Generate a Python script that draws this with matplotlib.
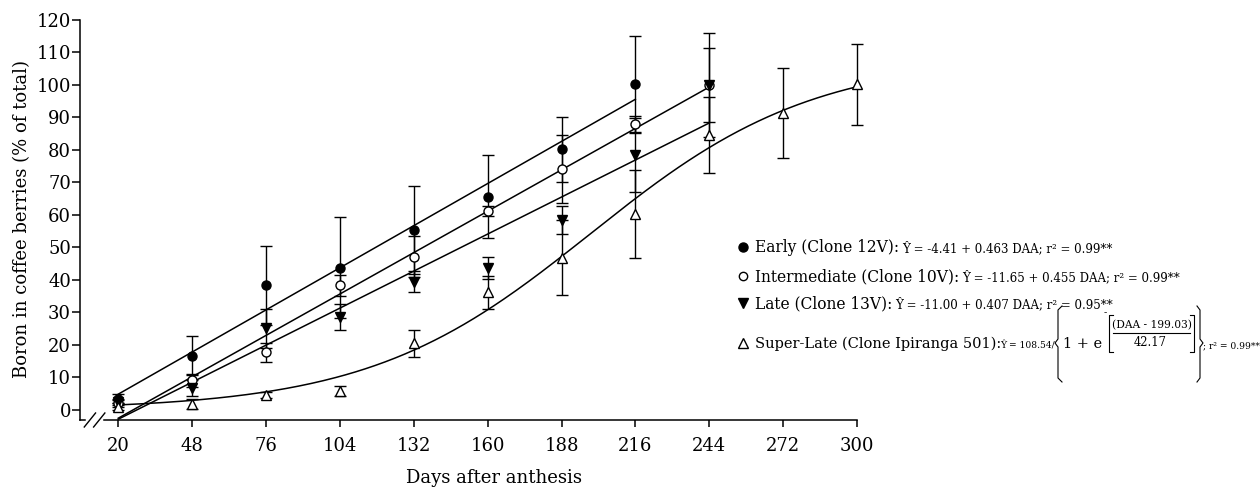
import numpy as np
import matplotlib
matplotlib.use('Agg')
import matplotlib.pyplot as plt
from matplotlib.lines import Line2D
from matplotlib.transforms import Affine2D

plt.rcParams.update({
    'font.family': 'DejaVu Serif',
    'axes.linewidth': 1.1,
    'xtick.major.width': 1.1,
    'ytick.major.width': 1.1,
})

W, H = 1260, 490

# ── data ──────────────────────────────────────────────────────────
days = [20, 48, 76, 104, 132, 160, 188, 216, 244, 272, 300]

early_days = days[:8]
early_val = [3.5, 16.6, 38.3, 43.8, 55.4, 65.6, 80.2, 100.2]
early_err = [1.5, 6.0, 12.2, 15.5, 13.6, 12.7, 10.0, 15.0]

inter_days = days[:9]
inter_val = [2.0, 9.2, 17.7, 38.3, 47.2, 61.2, 74.2, 87.9, 100.0]
inter_err = [1.0, 2.0, 3.0, 3.2, 6.3, 1.5, 10.5, 2.5, 11.5]

late_days = days[:9]
late_val = [2.5, 6.8, 25.2, 28.7, 39.5, 43.8, 58.5, 78.5, 100.0]
late_err = [1.0, 2.5, 6.0, 4.0, 3.3, 3.4, 4.3, 11.3, 16.0]

super_days = days
super_val = [1.0, 1.8, 4.6, 5.8, 20.5, 36.2, 46.9, 60.2, 84.6, 91.3, 100.2]
super_err = [1.0, 1.5, 0.8, 1.6, 4.1, 5.0, 11.5, 13.5, 11.8, 13.8, 12.4]

# fitted equations as printed on the chart
early_fit = (-4.41, 0.463)
inter_fit = (-11.65, 0.455)
late_fit = (-11.00, 0.407)
super_fit = (108.54, 199.03, 42.17)

# ── figure ────────────────────────────────────────────────────────
fig = plt.figure(figsize=(W / 100, H / 100), dpi=100)
ax = fig.add_axes([80 / W, 70 / H, 777 / W, 400 / H])
px = Affine2D().scale(1 / W, -1 / H).translate(0, 1) + fig.transFigure
renderer = fig.canvas.get_renderer()

ax.set_xlim(5.5, 300)
ax.set_ylim(-3.1, 120)

# regression lines
for (a, b), d in [(early_fit, early_days), (inter_fit, inter_days), (late_fit, late_days)]:
    xx = np.array([d[0], d[-1]])
    ax.plot(xx, a + b * xx, color='black', lw=1.1, zorder=2, clip_on=False)
xs = np.linspace(20, 300, 300)
ax.plot(xs, super_fit[0] / (1 + np.exp(-(xs - super_fit[1]) / super_fit[2])),
        color='black', lw=1.1, zorder=2, clip_on=False)

# points with error bars
series = [
    (early_days, early_val, early_err, 'o', 'black', 6.5),
    (inter_days, inter_val, inter_err, 'o', 'white', 6.5),
    (late_days, late_val, late_err, 'v', 'black', 7),
    (super_days, super_val, super_err, '^', 'white', 7),
]
for d, v, e, m, fc, ms in series:
    eb = ax.errorbar(d, v, yerr=e, fmt=m, mfc=fc, mec='black', ms=ms, mew=1.0,
                     ecolor='black', elinewidth=1.0, capsize=4.3, capthick=1.0,
                     zorder=3)
    for art in [eb.lines[0]] + list(eb.lines[1]) + list(eb.lines[2]):
        art.set_clip_on(False)

# axes styling
ax.spines['top'].set_visible(False)
ax.spines['right'].set_visible(False)
ax.spines['bottom'].set_visible(False)
ax.set_xticks(days)
ax.set_yticks(np.arange(0, 121, 10))
ax.tick_params(axis='x', direction='out', length=5, pad=7, labelsize=13)
ax.tick_params(axis='y', direction='out', length=5.5, pad=1, labelsize=13)

# broken x axis
ax.plot([0, 0.0064], [0, 0], transform=ax.transAxes, color='black', lw=1.1, clip_on=False)
ax.plot([0.031, 1], [0, 0], transform=ax.transAxes, color='black', lw=1.1, clip_on=False)
for x0 in (0.0055, 0.0175):
    ax.plot([x0, x0 + 0.0145], [-0.0175, 0.0175], transform=ax.transAxes,
            color='black', lw=1.0, clip_on=False)

fig.text(494, 478, 'Days after anthesis', transform=px, ha='center', va='center', fontsize=13)
fig.text(22, 219, 'Boron in coffee berries (% of total)', transform=px,
         ha='center', va='center', rotation=90, fontsize=13)

# ── legend with equations ─────────────────────────────────────────
rows = [
    ('o', 'black', 6.5, 252, 'Early (Clone 12V):', 11.2,
     'Ŷ = -4.41 + 0.463 DAA; r² = 0.99**'),
    ('o', 'white', 6, 281, 'Intermediate (Clone 10V):', 11.2,
     'Ŷ = -11.65 + 0.455 DAA; r² = 0.99**'),
    ('v', 'black', 7, 308, 'Late (Clone 13V):', 11.2,
     'Ŷ = -11.00 + 0.407 DAA; r² = 0.95**'),
    ('^', 'white', 6.5, 348, 'Super-Late (Clone Ipiranga 501):', 10.5, None),
]
for m, fc, ms, yb, label, fs, eq in rows:
    fig.add_artist(Line2D([743], [yb - 5], marker=m, ms=ms, mfc=fc, mec='black',
                          mew=1.0, ls='none', transform=px))
    t = fig.text(755, yb, label, transform=px, fontsize=fs, va='baseline')
    if eq:
        x_end = t.get_window_extent(renderer).x1
        fig.text(x_end + 3, yb, eq, transform=px, fontsize=8.5, va='baseline')

# super-late logistic equation
yb = 348
fig.text(1000, yb, 'Ŷ = 108.54/', transform=px, fontsize=6.6, va='baseline')
fig.text(1063, yb, '1 + e', transform=px, fontsize=10.5, va='baseline')
fig.text(1105, 313, '-', transform=px, fontsize=7, ha='center', va='center')
fig.text(1152, 325, '(DAA - 199.03)', transform=px, fontsize=7.7, ha='center', va='center')
fig.text(1150, 342, '42.17', transform=px, fontsize=8.3, ha='center', va='center')
fig.text(1203, yb, '; r² = 0.99**', transform=px, fontsize=6.6, va='baseline')


def draw(xs_, ys_, lw=0.8):
    fig.add_artist(Line2D(xs_, ys_, color='black', lw=lw, transform=px))


draw([1113, 1190], [333, 333])                                  # fraction bar
draw([1113, 1109, 1109, 1113], [315, 315, 352, 352])            # [
draw([1190, 1194, 1194, 1190], [315, 315, 352, 352])            # ]
draw([1062, 1058, 1058, 1055, 1058, 1058, 1062],
     [306, 310, 339, 343, 347, 378, 382])                        # {
draw([1197, 1200, 1200, 1203, 1200, 1200, 1197],
     [306, 310, 339, 343, 347, 378, 382])                        # }

fig.savefig('out.png', dpi=100)
